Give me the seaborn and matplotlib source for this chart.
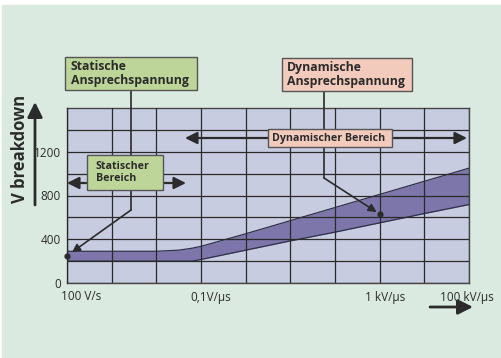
import numpy as np
import pandas as pd
import matplotlib.pyplot as plt
import seaborn as sns
from matplotlib.patches import Rectangle
from matplotlib.transforms import ScaledTranslation

# slew rate in V/us (log axis) and the edges of the breakdown band in V
rate = [1e-4, 1e-3, 1e-2, 10**-1.5, 10**-1.2, 1e-1, 1, 10, 100, 1e3, 1e4, 1e5]
v_upper = [290, 290, 290, 300, 318, 335, 450, 570, 690, 810, 930, 1050]
v_lower = [200, 200, 200, 200, 200, 215, 300, 385, 465, 550, 635, 717]

tick_rates = [1e-4, 1e-1, 1e3, 1e5]
tick_labels = ["100 V/s", "0,1V/µs", "1 kV/µs", "100 kV/µs"]
label_shift = [14, 10, 5, -2]   # px, labels sit a bit right of the grid line
y_ticks = [0, 400, 800, 1200]

# points the two callouts refer to
marker_rate = [1e-4, 1e3]
marker_v = [245, 630]

BG = "#dbeae0"
PLOT_BG = "#c8cce0"
BAND = "#7c76aa"
GREEN = "#bdd598"
SALMON = "#f2cbbc"
INK = "#2b2b2b"

W, H = 502, 358
sns.set_style("white")
plt.rcParams['font.family'] = ['Open Sans', 'DejaVu Sans']

fig = plt.figure(figsize=(W / 100, H / 100), dpi=100, facecolor="white")
fig.add_artist(Rectangle((2 / W, 0), 1, 1 - 5 / H, transform=fig.transFigure,
                         color=BG, zorder=-1))

ax = fig.add_axes([67 / W, 1 - 283 / H, 402 / W, 175 / H])
ax.set_facecolor(PLOT_BG)

df = pd.DataFrame({"rate": rate, "upper": v_upper, "lower": v_lower})
ax.fill_between(df["rate"], df["lower"], df["upper"], color=BAND, lw=0)
sns.lineplot(data=df, x="rate", y="upper", ax=ax, color="#30304a", lw=0.9)
sns.lineplot(data=df, x="rate", y="lower", ax=ax, color="#30304a", lw=0.9)
ax.scatter(marker_rate, marker_v, s=12, color=INK, zorder=6, clip_on=False)

ax.set_xscale("log")
ax.set_xlim(1e-4, 1e5)
ax.set_ylim(0, 1600)
ax.set_xlabel("")
ax.set_ylabel("")

ax.set_xticks([10.0 ** k for k in range(-4, 6)])
ax.set_xticks([], minor=True)
ax.set_xticklabels([])
ax.set_yticks(y_ticks)
ax.set_yticklabels([str(v) for v in y_ticks])
ax.set_yticks([200, 600, 1000, 1400], minor=True)
ax.tick_params(axis="x", which="both", length=0)
ax.tick_params(axis="y", which="major", length=3, width=0.9, color="#555",
               pad=1.5, labelsize=8.5, labelcolor=INK)
ax.tick_params(axis="y", which="minor", length=0)
ax.grid(True, which="both", color="#2a2a2a", lw=0.9)
ax.set_axisbelow(False)
for sp in ax.spines.values():
    sp.set_color("#444")
    sp.set_linewidth(1)

for r, lab, dx in zip(tick_rates, tick_labels, label_shift):
    tr = ax.get_xaxis_transform() + ScaledTranslation(dx / 100, -14 / 100,
                                                      fig.dpi_scale_trans)
    ax.text(r, 0, lab, transform=tr, ha="center", va="center",
            fontsize=8.5, color=INK)

# overlay in pixel coordinates for the callouts
ov = fig.add_axes([0, 0, 1, 1], zorder=5)
ov.set_xlim(0, W)
ov.set_ylim(H, 0)
ov.set_axis_off()


def to_px(x, y):
    return ov.transData.inverted().transform(ax.transData.transform((x, y)))


def box(x0, y0, w, h, color, text, size, tx):
    ov.add_patch(Rectangle((x0, y0), w, h, facecolor=color, edgecolor="#555",
                           lw=1, zorder=3))
    ov.text(tx, y0 + h / 2, text, ha="left", va="center", fontsize=size,
            fontweight="bold", color=INK, linespacing=1.15, zorder=4)


def arrow(p0, p1, style, lw, scale):
    ov.annotate("", xy=p1, xytext=p0,
                arrowprops=dict(arrowstyle=style, lw=lw, color=INK,
                                shrinkA=0, shrinkB=0, mutation_scale=scale),
                zorder=2)


# axis arrows and y label
arrow((35, 205), (35, 102), "-|>,head_length=0.9,head_width=0.45", 2.0, 10)
arrow((430, 307), (473, 307), "-|>,head_length=0.9,head_width=0.45", 2.0, 10)
ov.text(20, 149, "V breakdown", rotation=90, ha="center", va="center",
        fontsize=12, fontweight="bold", color=INK)

# static callout
p_stat = to_px(marker_rate[0], marker_v[0])
ov.plot([131, 131], [90, 210], color=INK, lw=1.2, zorder=2)
arrow((131, 210), (p_stat[0] + 5, p_stat[1] - 4), "-|>,head_length=0.6,head_width=0.3", 1.2, 8)
arrow((67, 183), (186, 183), "<|-|>,head_length=0.8,head_width=0.4", 1.6, 9)
box(65, 57, 132, 33, GREEN, "Statische\nAnsprechspannung", 8.8, 71)
box(87, 155, 76, 35, GREEN, "Statischer\nBereich", 7.7, 96)

# dynamic callout
p_dyn = to_px(marker_rate[1], marker_v[1])
ov.plot([324, 324], [91, 178], color=INK, lw=1.2, zorder=2)
arrow((324, 178), (p_dyn[0] - 3, p_dyn[1] - 2), "-|>,head_length=0.6,head_width=0.3", 1.2, 8)
arrow((185, 138), (467, 138), "<|-|>,head_length=0.8,head_width=0.4", 1.6, 9)
box(282, 58, 130, 33, SALMON, "Dynamische\nAnsprechspannung", 8.8, 287)
box(268, 129, 124, 18, SALMON, "Dynamischer Bereich", 7.7, 272)

fig.savefig("out.png", dpi=100, facecolor=fig.get_facecolor())
